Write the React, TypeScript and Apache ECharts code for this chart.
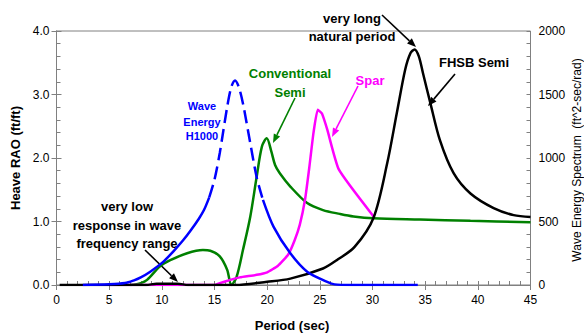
import React, { useEffect, useRef } from 'react';
import * as echarts from 'echarts';

// Wave energy spectrum H1000 (right axis, ft^2-sec/rad)
const waveEnergyPeriod = [2.5, 5, 6.5, 7.3, 8.0, 8.9, 10.1, 11.1, 12.0, 12.7, 13.5, 14.0, 14.5, 15.0, 15.5, 16.2, 16.6, 16.95, 17.3, 17.7, 18.4, 19.0, 19.6, 20.6, 22.2, 23.8, 25.7, 26.4, 28, 34.3];
const waveEnergy = [0, 5, 15, 35, 60, 105, 180, 265, 350, 425, 520, 590, 690, 830, 1040, 1400, 1560, 1610, 1560, 1430, 1115, 850, 670, 460, 250, 105, 25, 5, 0, 0];
const waveDashStart = 12;
const waveDashEnd = 22;

// Conventional Semi heave RAO
const convPeriod = [7.0, 8.0, 8.6, 9.8, 10.8, 12.4, 13.9, 14.6, 15.5, 16.2, 16.6, 17.1, 17.7, 18.4, 19.0, 19.5, 19.96, 20.4, 20.75, 21.2, 22.2, 23.8, 25.3, 26.9, 28.2, 30.1, 34.5, 39.3, 45];
const convRao = [0, 0.03, 0.08, 0.29, 0.39, 0.5, 0.55, 0.54, 0.45, 0.24, 0.0, 0.13, 0.55, 1.08, 1.7, 2.18, 2.31, 2.1, 1.89, 1.76, 1.55, 1.29, 1.18, 1.12, 1.08, 1.05, 1.03, 1.01, 0.99];

// Spar heave RAO
const sparPeriod = [5, 15, 15.5, 16.5, 17.4, 19.0, 20.0, 21.0, 22.0, 22.6, 23.1, 23.6, 24.0, 24.4, 24.8, 25.2, 25.7, 26.8, 30.1];
const sparRao = [0, 0, 0.03, 0.08, 0.12, 0.16, 0.2, 0.3, 0.48, 0.7, 0.95, 1.35, 1.85, 2.4, 2.76, 2.7, 2.45, 1.82, 1.08];

// FHSB Semi heave RAO
const fhsbPeriod = [0.3, 5, 8.5, 9.5, 11.5, 12.5, 15, 17, 20, 22.2, 25.3, 26.6, 28.3, 30.1, 31.4, 32.3, 33.1, 33.6, 34.0, 34.4, 34.8, 35.5, 36.4, 37.7, 39.3, 41.5, 43.4, 45];
const fhsbRao = [0, 0, 0, 0.02, 0.02, 0, 0, 0, 0.05, 0.1, 0.26, 0.39, 0.6, 1.06, 1.92, 2.7, 3.39, 3.65, 3.71, 3.6, 3.33, 2.86, 2.28, 1.76, 1.44, 1.21, 1.1, 1.07];

const FONT = '"Liberation Sans", Arial, Helvetica, sans-serif';
const AXIS_GRAY = '#808080';

function pairs(xs: number[], ys: number[]) {
  return xs.map((x, i) => [x, ys[i]]);
}

function arrow(x1: number, y1: number, x2: number, y2: number, color: string) {
  const dx = x2 - x1;
  const dy = y2 - y1;
  const len = Math.sqrt(dx * dx + dy * dy);
  const ux = dx / len;
  const uy = dy / len;
  const L = 9;
  const W = 3.5;
  const bx = x2 - ux * L;
  const by = y2 - uy * L;
  const nx = -uy;
  const ny = ux;
  return [
    {
      type: 'line',
      shape: { x1, y1, x2: bx, y2: by },
      style: { stroke: color, lineWidth: 1.6 },
      silent: true,
    },
    {
      type: 'polygon',
      shape: { points: [[x2, y2], [bx + nx * W, by + ny * W], [bx - nx * W, by - ny * W]] },
      style: { fill: color },
      silent: true,
    },
  ];
}

function label(text: string, x: number, y: number, color: string, size = 13, weight = 'bold', rotation = 0) {
  return {
    type: 'text',
    x,
    y,
    rotation,
    silent: true,
    style: {
      text,
      fill: color,
      fontSize: size,
      fontWeight: weight,
      fontFamily: FONT,
      align: 'center',
      verticalAlign: 'middle',
    },
  };
}

export default function App() {
  const ref = useRef<HTMLDivElement>(null);
  useEffect(() => {
    if (!ref.current) return;
    const chart = echarts.init(ref.current, undefined, { renderer: 'svg' });
    const wave = pairs(waveEnergyPeriod, waveEnergy);
    const lineBase = {
      type: 'line',
      showSymbol: false,
      smooth: 0.3,
      xAxisIndex: 0,
    };
    const option: any = {
      animation: false,
      backgroundColor: '#ffffff',
      grid: {
        left: 56.5,
        right: 53.5,
        top: 31,
        bottom: 51,
        containLabel: false,
        outerBoundsMode: 'none',
        show: true,
        borderColor: AXIS_GRAY,
        borderWidth: 1,
        backgroundColor: 'transparent',
      },
      xAxis: [
        {
          type: 'value',
          min: 0,
          max: 45,
          interval: 5,
          position: 'bottom',
          axisLine: { show: true, lineStyle: { color: AXIS_GRAY, width: 1 } },
          axisTick: { show: true, inside: false, length: 5, lineStyle: { color: AXIS_GRAY } },
          axisLabel: { color: '#000', fontSize: 12, fontFamily: FONT, margin: 9 },
          splitLine: { show: false },
        },
        {
          type: 'value',
          min: 0,
          max: 45,
          interval: 1,
          position: 'bottom',
          axisLine: { show: false },
          axisTick: { show: true, inside: true, length: 4, lineStyle: { color: AXIS_GRAY } },
          axisLabel: { show: false },
          splitLine: { show: false },
        },
      ],
      yAxis: [
        {
          type: 'value',
          min: 0,
          max: 4,
          interval: 1,
          position: 'left',
          axisLine: { show: true, lineStyle: { color: AXIS_GRAY, width: 1 } },
          axisTick: { show: true, inside: false, length: 5, lineStyle: { color: AXIS_GRAY } },
          axisLabel: { color: '#000', fontSize: 12, fontFamily: FONT, margin: 7, formatter: (v: number) => v.toFixed(1) },
          splitLine: { show: false },
        },
        {
          type: 'value',
          min: 0,
          max: 2000,
          interval: 500,
          position: 'right',
          axisLine: { show: true, lineStyle: { color: AXIS_GRAY, width: 1 } },
          axisTick: { show: true, inside: false, length: 5, lineStyle: { color: AXIS_GRAY } },
          axisLabel: { color: '#000', fontSize: 12, fontFamily: FONT, margin: 8, formatter: (v: number) => String(v) },
          splitLine: { show: false },
        },
        {
          type: 'value',
          min: 0,
          max: 4,
          interval: 0.2,
          position: 'left',
          axisLine: { show: false },
          axisTick: { show: true, inside: true, length: 4, lineStyle: { color: AXIS_GRAY } },
          axisLabel: { show: false },
          splitLine: { show: false },
        },
        {
          type: 'value',
          min: 0,
          max: 2000,
          interval: 100,
          position: 'right',
          axisLine: { show: false },
          axisTick: { show: true, inside: true, length: 4, lineStyle: { color: AXIS_GRAY } },
          axisLabel: { show: false },
          splitLine: { show: false },
        },
      ],
      series: [
        {
          ...lineBase,
          name: 'Conventional Semi',
          yAxisIndex: 0,
          data: pairs(convPeriod, convRao),
          lineStyle: { color: '#008000', width: 2.5 },
          z: 2,
        },
        {
          ...lineBase,
          name: 'Spar',
          yAxisIndex: 0,
          data: pairs(sparPeriod, sparRao),
          smooth: 0.15,
          lineStyle: { color: '#ff00ff', width: 2.5 },
          z: 3,
        },
        {
          ...lineBase,
          name: 'FHSB Semi',
          yAxisIndex: 0,
          data: pairs(fhsbPeriod, fhsbRao),
          lineStyle: { color: '#000000', width: 2.5 },
          z: 4,
        },
        {
          ...lineBase,
          name: 'Wave Energy H1000 a',
          yAxisIndex: 1,
          data: wave.slice(0, waveDashStart + 1),
          lineStyle: { color: '#0000ff', width: 2.5 },
          z: 5,
        },
        {
          ...lineBase,
          name: 'Wave Energy H1000 b',
          yAxisIndex: 1,
          data: wave.slice(waveDashStart, waveDashEnd + 1),
          lineStyle: { color: '#0000ff', width: 2.5, type: [13, 6] },
          z: 5,
        },
        {
          ...lineBase,
          name: 'Wave Energy H1000 c',
          yAxisIndex: 1,
          data: wave.slice(waveDashEnd),
          lineStyle: { color: '#0000ff', width: 2.5 },
          z: 5,
        },
      ],
      graphic: [
        label('Heave RAO (ft/ft)', 15, 158, '#000', 13, 'bold', Math.PI / 2),
        label('Wave Energy Spectrum  (ft^2-sec/rad)', 577, 160, '#000', 12, 'normal', Math.PI / 2),
        label('Period (sec)', 292, 325, '#000', 13, 'bold'),
        label('very long', 352, 18, '#000'),
        label('natural period', 352, 36, '#000'),
        label('FHSB Semi', 474, 62, '#000'),
        label('Spar', 370, 80, '#ff00ff'),
        label('Conventional', 290, 73, '#008000'),
        label('Semi', 290, 92, '#008000'),
        label('Wave', 202, 106, '#0000ff', 11),
        label('Energy', 202, 122, '#0000ff', 11),
        label('H1000', 202, 136, '#0000ff', 11),
        label('very low', 127, 206, '#000'),
        label('response in wave', 127, 225, '#000'),
        label('frequency range', 127, 243, '#000'),
        ...arrow(382, 15, 416, 47, '#000'),
        ...arrow(455, 74, 428, 106, '#000'),
        ...arrow(358, 86, 332, 137, '#ff00ff'),
        ...arrow(295, 98, 273, 143, '#008000'),
        ...arrow(145, 250, 178, 282, '#000'),
      ],
    };
    chart.setOption(option);
    return () => {
      chart.dispose();
    };
  }, []);
  return (
    <div
      ref={ref}
      style={{ position: 'fixed', left: 0, top: 0, width: 584, height: 336, background: '#fff' }}
    />
  );
}
